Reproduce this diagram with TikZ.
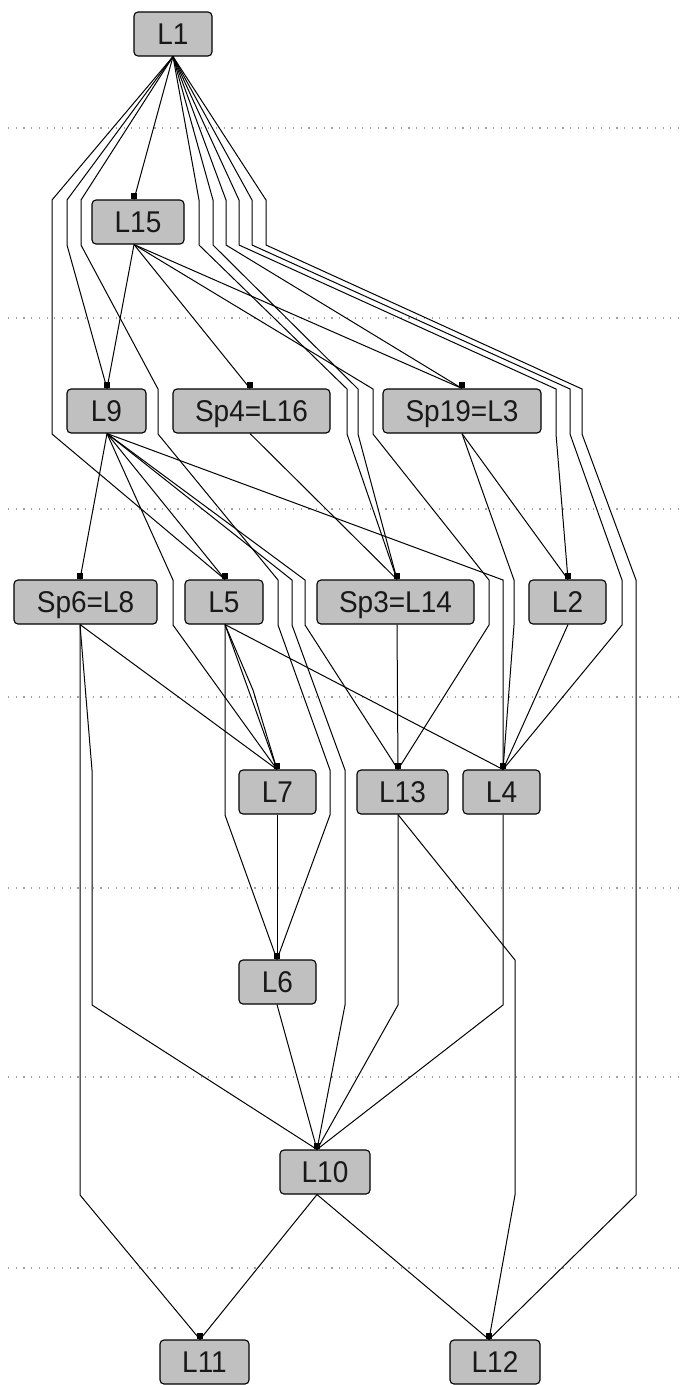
\documentclass[tikz,border=0pt]{standalone}
\usepackage{fontspec}
\setmainfont{Liberation Sans}[FakeStretch=0.933]
\definecolor{boxfill}{RGB}{192,192,192}
\definecolor{txt}{RGB}{25,25,25}
\definecolor{dotc}{RGB}{160,160,160}
\begin{document}
\begin{tikzpicture}[x=1pt,y=-1pt,
  lnode/.style={draw=black, line width=1.1pt, fill=boxfill, rounded corners=4pt,
    minimum height=44pt, inner sep=0pt, text height=21.5pt, text depth=0pt,
    text=txt, font=\fontsize{30}{32}\selectfont},
  edge/.style={draw=black, line width=1pt},
  dotline/.style={draw=dotc, line width=1.2pt, dash pattern=on 1.2pt off 6.5pt},
  endmark/.style={fill=black}]
\useasboundingbox (0,0) rectangle (681,1385);
\fill[white] (0,0) rectangle (681,1385);
% layer separators
\foreach \yy in {128,318,509,697,888,1077,1268}
  \draw[dotline] (8,\yy) -- (681,\yy);
% nodes
\node[lnode, minimum width=78pt]  (L1)   at (173,34)    {L1};
\node[lnode, minimum width=92pt]  (L15)  at (138,222)   {L15};
\node[lnode, minimum width=79pt]  (L9)   at (106.5,411) {L9};
\node[lnode, minimum width=157pt] (Sp4)  at (251.5,411) {Sp4=L16};
\node[lnode, minimum width=158pt] (Sp19) at (462,411)   {Sp19=L3};
\node[lnode, minimum width=143pt] (Sp6)  at (85.5,602)  {Sp6=L8};
\node[lnode, minimum width=78pt]  (L5)   at (224,602)   {L5};
\node[lnode, minimum width=157pt] (Sp3)  at (395.5,602) {Sp3=L14};
\node[lnode, minimum width=77pt]  (L2)   at (567.5,602) {L2};
\node[lnode, minimum width=77pt]  (L7)   at (277.5,792) {L7};
\node[lnode, minimum width=91pt]  (L13)  at (402.5,792) {L13};
\node[lnode, minimum width=77pt]  (L4)   at (501.5,792) {L4};
\node[lnode, minimum width=77pt]  (L6)   at (277.5,982) {L6};
\node[lnode, minimum width=90pt]  (L10)  at (325,1172)  {L10};
\node[lnode, minimum width=89pt]  (L11)  at (204.5,1362){L11};
\node[lnode, minimum width=90pt]  (L12)  at (495,1362)  {L12};
% ports (out = bottom, in = top)
\foreach \n/\s in {L1/0,L15/-4,L9/0.5,Sp4/-1.5,Sp19/0,Sp6/-5.5,L5/1,Sp3/1.5,L2/0.5,
                   L7/-0.5,L13/-4.5,L4/1.5,L6/-0.5,L10/-8,L11/-4.5,L12/-6}{
  \coordinate (\n o) at ([xshift=\s pt]\n.south);
  \coordinate (\n i) at ([xshift=\s pt]\n.north);
}
% edges from L1
\draw[edge] (L1o) -- (L15i);
\draw[edge] (L1o) -- (52,200) -- (52,434) -- (L5i);
\draw[edge] (L1o) -- (67,200) -- (67,245) -- (L9i);
\draw[edge] (L1o) -- (81,200) -- (81,245) -- (158,389) -- (158,434) -- (278,580) -- (278,625) -- (330,770) -- (330,815) -- (L6i);
\draw[edge] (L1o) -- (199,200) -- (199,245) -- (347,389) -- (347,434) -- (Sp3i);
\draw[edge] (L1o) -- (213,200) -- (213,245) -- (358,389) -- (358,434) -- (Sp3i);
\draw[edge] (L1o) -- (226,200) -- (226,245) -- (Sp19i);
\draw[edge] (L1o) -- (239,200) -- (239,245) -- (556,389) -- (556,434) -- (L2i);
\draw[edge] (L1o) -- (252,200) -- (252,245) -- (570,389) -- (570,434) -- (622,580) -- (622,625) -- (L4i);
\draw[edge] (L1o) -- (266,200) -- (266,245) -- (582,389) -- (582,434) -- (636,580) -- (636,1195) -- (L12i);
% edges from L15
\draw[edge] (L15o) -- (L9i);
\draw[edge] (L15o) -- (Sp4i);
\draw[edge] (L15o) -- (Sp19i);
\draw[edge] (L15o) -- (373,389) -- (373,434) -- (489,580) -- (489,625) -- (L13i);
% edges from L9
\draw[edge] (L9o) -- (Sp6i);
\draw[edge] (L9o) -- (173,580) -- (173,625) -- (L7i);
\draw[edge] (L9o) -- (L5i);
\draw[edge] (L9o) -- (292,580) -- (292,625) -- (345,770) -- (345,1005) -- (L10i);
\draw[edge] (L9o) -- (305,580) -- (305,625) -- (L13i);
\draw[edge] (L9o) -- (503,580) -- (L4i);
% layer 2 others
\draw[edge] (Sp4o) -- (Sp3i);
\draw[edge] (Sp19o) -- (L2i);
\draw[edge] (Sp19o) -- (514,580) -- (514,625) -- (L4i);
% layer 3
\draw[edge] (Sp6o) -- (L7i);
\draw[edge] (Sp6o) -- (92,770) -- (92,1005) -- (L10i);
\draw[edge] (Sp6o) -- (80,1195) -- (L11i);
\draw[edge] (L5o) -- (L7i);
\draw[edge] (L5o) -- (253,690) -- (L7i);
\draw[edge] (L5o) -- (225,815) -- (L6i);
\draw[edge] (L5o) -- (L4i);
\draw[edge] (Sp3o) -- (L13i);
\draw[edge] (L2o) -- (L4i);
% layer 4
\draw[edge] (L7o) -- (L6i);
\draw[edge] (L13o) -- (398,1005) -- (L10i);
\draw[edge] (L13o) -- (515,960) -- (515,1195) -- (L12i);
\draw[edge] (L4o) -- (503,1005) -- (L10i);
% layer 5, 6
\draw[edge] (L6o) -- (L10i);
\draw[edge] (L10o) -- (L11i);
\draw[edge] (L10o) -- (L12i);
% end markers
\foreach \n in {L15,L9,Sp4,Sp19,Sp6,L5,Sp3,L2,L7,L13,L4,L6,L10,L11,L12}
  \fill[endmark] ([xshift=-3pt]\n i) rectangle ++(6,-6);
\end{tikzpicture}
\end{document}
